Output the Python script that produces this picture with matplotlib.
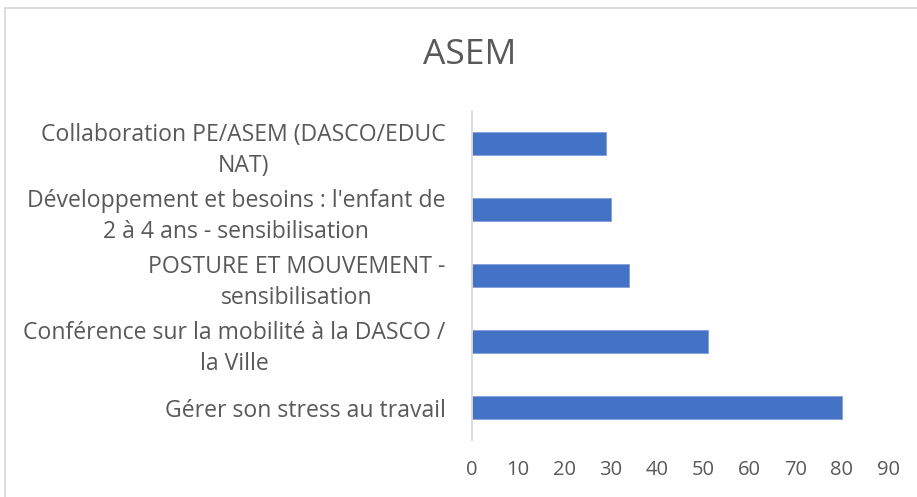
import matplotlib.pyplot as plt
from matplotlib.patches import Rectangle

categories = [
    "Gérer son stress au travail",
    "Conférence sur la mobilité à la DASCO /\nla Ville",
    "POSTURE ET MOUVEMENT -\nsensibilisation",
    "Développement et besoins : l'enfant de\n2 à 4 ans - sensibilisation",
    "Collaboration PE/ASEM (DASCO/EDUC\nNAT)",
]
values = [80, 51, 34, 30, 29]
xticks = [0, 10, 20, 30, 40, 50, 60, 70, 80, 90]

TEXT = "#595959"
BAR = "#4472C4"

plt.rcParams['font.family'] = ['Open Sans', 'DejaVu Sans']

fig = plt.figure(figsize=(9.17, 4.97), dpi=100)
ax = fig.add_axes([0.5147, 0.1137, 0.4537, 0.6633])

# chart area border
fig.patches.append(Rectangle((5 / 917, -0.1), 1.2, 1 - 8 / 497 + 0.1,
                             transform=fig.transFigure, fill=False,
                             edgecolor="#D9D9D9", linewidth=1.3))

ax.barh(range(len(values)), values, height=0.35, color=BAR,
        edgecolor="#7F9FD9", linewidth=0.6)

ax.set_xlim(0, 90)
ax.set_ylim(-0.5, len(values) - 0.5)
ax.set_xticks(xticks)
ax.set_yticks(range(len(categories)))
ax.set_yticklabels(categories, multialignment="center", linespacing=1.42)

for s in ["top", "right", "bottom"]:
    ax.spines[s].set_visible(False)
ax.spines["left"].set_color("#D9D9D9")
ax.spines["left"].set_linewidth(1.3)

ax.tick_params(axis="y", length=0, pad=19, labelsize=16.6, labelcolor=TEXT)
ax.tick_params(axis="x", length=0, pad=14, labelsize=14.5, labelcolor=TEXT)

fig.text(470 / 917, 1 - 55 / 497, "ASEM", ha="center",
         va="center", fontsize=25.5, color=TEXT)

fig.savefig("out.png", dpi=100)
